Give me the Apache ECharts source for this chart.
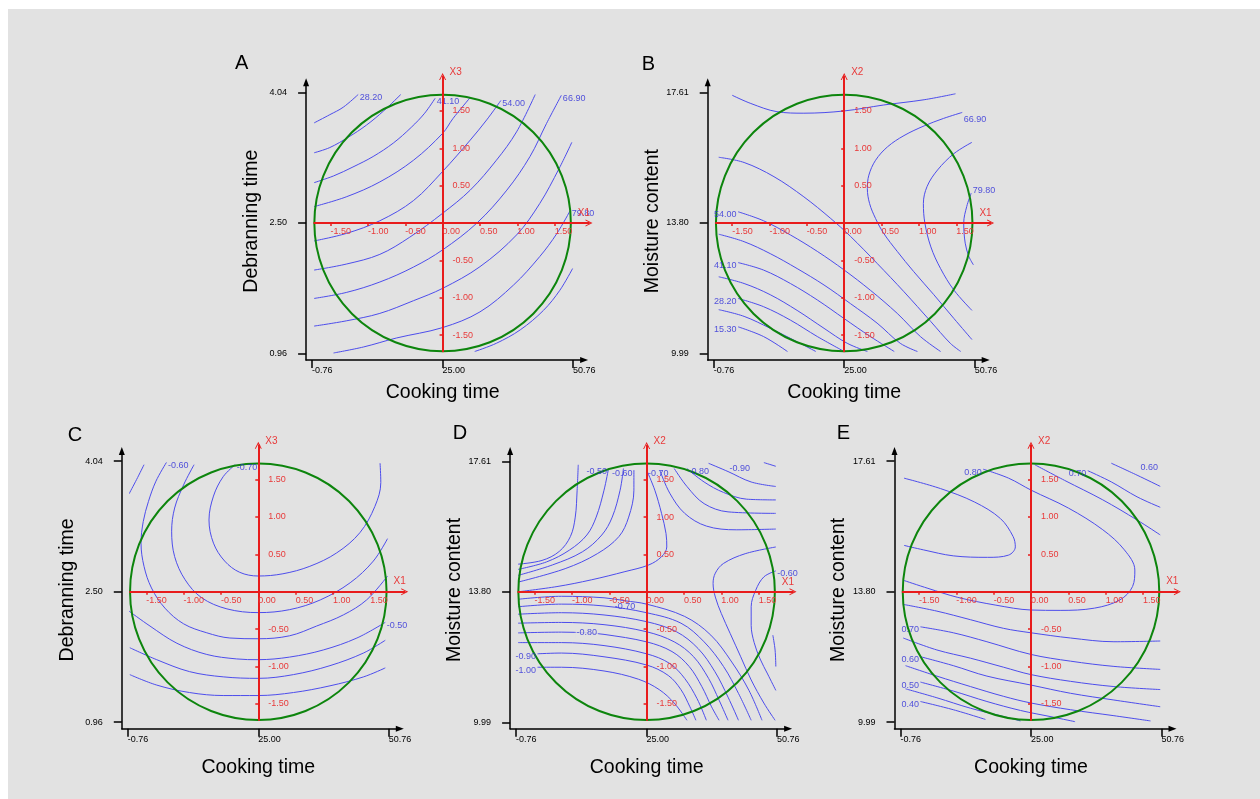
<!DOCTYPE html>
<html><head><meta charset="utf-8">
<script src="https://cdn.jsdelivr.net/npm/echarts@6/dist/echarts.min.js"></script>
<style>html,body{margin:0;padding:0;background:#fff;}#c{width:1260px;height:799px;}</style>
</head><body><div id="c"></div>
<script>
// ---------------- data ----------------
const cookingTicks = [-0.76, 25.00, 50.76];
const debranningTicks = [0.96, 2.50, 4.04];
const moistureTicks = [9.99, 13.80, 17.61];
const codedTicksX = [-1.5, -1, -0.5, 0, 0.5, 1, 1.5];
const codedTicksY = [-1.5, -1, -0.5, 0.5, 1, 1.5];
const alpha = 1.717;            // radius of the experimental domain (coded units)
const designCenter = [[0, 0]];

// Panel A contour lines (coded X1, X3)
const A_lines = [
  [[-1.72,1.34],[-1.51,1.45],[-1.33,1.55],[-1.13,1.72]],
  [[-1.72,0.94],[-1.51,1.01],[-1.26,1.15],[-1.02,1.31],[-0.79,1.50],[-0.56,1.72]],
  [[-1.72,0.54],[-1.46,0.63],[-1.20,0.75],[-0.93,0.89],[-0.66,1.07],[-0.42,1.28],[-0.24,1.47],[-0.10,1.67]],
  [[-1.72,0.22],[-1.29,0.35],[-0.84,0.55],[-0.39,0.84],[0,1.20],[0.14,1.40],[0.37,1.68]],
  [[-1.72,-0.24],[-1.29,-0.14],[-0.84,0.03],[-0.39,0.30],[0,0.69],[0.37,1.11],[0.59,1.38],[0.78,1.64]],
  [[-1.72,-0.63],[-1.29,-0.55],[-0.84,-0.42],[-0.44,-0.19],[0,0.13],[0.37,0.44],[0.72,0.84],[0.99,1.22],[1.24,1.72]],
  [[-1.72,-1.01],[-1.29,-0.93],[-0.84,-0.79],[-0.39,-0.59],[0,-0.36],[0.46,0],[0.86,0.44],[1.17,0.89],[1.39,1.33],[1.59,1.71]],
  [[-1.72,-1.38],[-1.29,-1.31],[-0.84,-1.21],[-0.39,-1.04],[0,-0.875],[0.5,-0.585],[0.99,-0.16],[1.30,0.26],[1.56,0.73],[1.73,1.08]],
  [[-1.46,-1.74],[-1.06,-1.66],[-0.62,-1.54],[0,-1.40],[0.5,-1.19],[0.95,-0.83],[1.30,-0.45],[1.53,-0.14],[1.71,0.17]],
  [[0.43,-1.72],[0.72,-1.61],[1.04,-1.43],[1.35,-1.17],[1.57,-0.90],[1.74,-0.61]]
];
const A_labelText = ['28.20','41.10','54.00','66.90','79.80'];
const A_labelLine = [0, 2, 4, 6, 8];

// Panel B contour lines (coded X1, X2)
const B_lines = [
  [[-1.50,1.71],[-1.25,1.60],[-0.90,1.49],[-0.54,1.47],[0,1.50],[0.53,1.58],[1.07,1.65],[1.49,1.73]],
  [[1.71,-1.56],[1.47,-1.28],[1.20,-0.96],[0.93,-0.65],[0.71,-0.38],[0.53,-0.14],[0.42,0.06],[0.34,0.26],[0.31,0.46],[0.33,0.64],[0.42,0.84],[0.58,1.02],[0.80,1.17],[1.07,1.30],[1.33,1.40],[1.58,1.48]],
  [[1.71,1.08],[1.47,0.93],[1.25,0.71],[1.11,0.49],[1.06,0.26],[1.08,0],[1.16,-0.32],[1.29,-0.61],[1.47,-0.90],[1.71,-1.17]],
  [[1.73,-0.56],[1.67,-0.45],[1.62,-0.27],[1.60,0],[1.64,0.22],[1.70,0.40]],
  [[-1.68,0.88],[-1.34,0.81],[-0.94,0.62],[-0.54,0.35],[-0.18,0.06],[0.085,-0.18],[0.44,-0.54],[0.80,-0.92],[1.16,-1.32],[1.42,-1.61],[1.56,-1.72]],
  [[1.29,-1.72],[1.02,-1.52],[0.71,-1.21],[0.35,-0.90],[0,-0.63],[-0.36,-0.38],[-0.72,-0.16],[-1.08,0.03],[-1.42,0.15]],
  [[-1.68,-0.15],[-1.34,-0.25],[-0.99,-0.41],[-0.63,-0.61],[-0.27,-0.83],[0.085,-1.08],[0.44,-1.34],[0.75,-1.61],[0.98,-1.72]],
  [[0.67,-1.72],[0.35,-1.52],[0,-1.28],[-0.36,-1.03],[-0.72,-0.81],[-1.08,-0.63],[-1.42,-0.53]],
  [[-1.68,-0.72],[-1.34,-0.81],[-0.99,-0.96],[-0.63,-1.17],[-0.27,-1.41],[0.04,-1.61],[0.31,-1.72]],
  [[0,-1.72],[-0.36,-1.52],[-0.72,-1.30],[-1.08,-1.12],[-1.42,-1.01]],
  [[-1.68,-1.16],[-1.34,-1.25],[-0.99,-1.41],[-0.63,-1.59],[-0.38,-1.72]],
  [[-0.76,-1.72],[-1.08,-1.52],[-1.42,-1.39]]
];
const B_labelText = ['66.90','79.80','54.00','41.10','28.20','15.30'];
const B_labelLine = [1, 3, 5, 7, 9, 11];

// Panel C contour lines (coded X1, X3)
const C_lines = [
  [[-1.73,1.31],[-1.63,1.50],[-1.53,1.70]],
  [[1.73,0.21],[1.45,-0.11],[1.14,-0.31],[0.78,-0.46],[0.42,-0.59],[0,-0.63],[-0.38,-0.62],[-0.69,-0.55],[-1.00,-0.43],[-1.25,-0.22],[-1.43,0.05],[-1.53,0.34],[-1.57,0.65],[-1.54,0.94],[-1.47,1.21],[-1.37,1.48],[-1.23,1.73]],
  [[1.73,0.71],[1.54,0.41],[1.23,0.12],[0.83,-0.11],[0.42,-0.24],[0,-0.28],[-0.42,-0.23],[-0.76,-0.08],[-0.98,0.16],[-1.12,0.47],[-1.16,0.81],[-1.12,1.12],[-1.00,1.43],[-0.86,1.70]],
  [[1.63,1.72],[1.64,1.46],[1.56,1.14],[1.36,0.79],[1.05,0.52],[0.69,0.34],[0.33,0.24],[0,0.21],[-0.25,0.26],[-0.45,0.41],[-0.60,0.65],[-0.66,0.96],[-0.60,1.28],[-0.47,1.54],[-0.31,1.70]],
  [[-1.73,-0.26],[-1.45,-0.46],[-1.09,-0.69],[-0.69,-0.84],[-0.29,-0.90],[0,-0.91],[0.42,-0.875],[0.87,-0.78],[1.32,-0.62],[1.70,-0.41]],
  [[-1.72,-0.75],[-1.36,-0.91],[-0.92,-1.07],[-0.47,-1.14],[0,-1.16],[0.47,-1.11],[0.96,-0.99],[1.41,-0.82],[1.70,-0.65]],
  [[-1.72,-1.11],[-1.36,-1.25],[-0.92,-1.35],[-0.47,-1.39],[0,-1.39],[0.47,-1.35],[0.96,-1.26],[1.41,-1.14],[1.70,-1.02]]
];
const C_labelText = ['-0.60','-0.70','-0.50'];
const C_labelLine = [1, 3, 4];

// Panel D contour lines (coded X1, X2)
const D_lines = [
  [[-1.72,0.37],[-1.40,0.42],[-1.17,0.54],[-1.02,0.74],[-0.955,1.00],[-0.93,1.36],[-0.915,1.70]],
  [[-1.72,0.30],[-1.34,0.40],[-1.03,0.56],[-0.80,0.76],[-0.675,1.00],[-0.57,1.36],[-0.51,1.65]],
  [[-1.72,0.22],[-1.26,0.36],[-0.86,0.535],[-0.60,0.76],[-0.46,1.00],[-0.355,1.36],[-0.31,1.65]],
  [[-1.72,0.13],[-1.09,0.31],[-0.66,0.51],[-0.37,0.74],[-0.24,1.00],[-0.17,1.36],[-0.17,1.63]],
  [[-1.72,0],[-1.20,0.07],[-0.74,0.16],[-0.29,0.27],[0.03,0.36],[0.20,0.47],[0.27,0.60],[0.26,0.78],[0.20,1.05],[0.11,1.36],[0,1.63]],
  [[1.57,1.73],[1.73,1.68]],
  [[0.83,1.72],[1.09,1.61],[1.40,1.47],[1.73,1.41]],
  [[1.73,1.23],[1.34,1.24],[1.03,1.33],[0.77,1.47],[0.54,1.65]],
  [[0.37,1.65],[0.54,1.41],[0.77,1.18],[1.09,1.07],[1.73,1.05]],
  [[0.18,1.62],[0.31,1.32],[0.51,1.05],[0.80,0.88],[1.20,0.83],[1.73,0.84]],
  [[1.73,0.60],[1.32,0.51],[1.03,0.38],[0.92,0.25],[0.89,0.11],[0.92,-0.07],[1.00,-0.29],[1.12,-0.56],[1.26,-0.87],[1.40,-1.18],[1.57,-1.49],[1.72,-1.72]],
  [[1.73,-1.32],[1.62,-1.10],[1.52,-0.90],[1.44,-0.68],[1.40,-0.45],[1.40,-0.20],[1.46,0.02],[1.57,0.20],[1.73,0.28]],
  [[1.69,-0.58],[1.72,-0.78],[1.73,-1.00]],
  [[-1.72,-0.10],[-1.14,-0.06],[-0.57,-0.08],[-0.29,-0.12],[0,-0.165],[0.51,-0.33],[0.86,-0.58],[1.14,-0.94],[1.37,-1.32],[1.545,-1.72]],
  [[-1.72,-0.20],[-1.14,-0.165],[-0.57,-0.19],[0,-0.28],[0.46,-0.42],[0.77,-0.67],[1.03,-1.00],[1.23,-1.36],[1.40,-1.72]],
  [[-1.72,-0.30],[-1.14,-0.28],[-0.57,-0.31],[0,-0.40],[0.40,-0.535],[0.69,-0.76],[0.915,-1.07],[1.09,-1.41],[1.23,-1.72]],
  [[-1.72,-0.42],[-1.14,-0.41],[-0.57,-0.44],[0,-0.535],[0.37,-0.67],[0.63,-0.87],[0.83,-1.16],[0.97,-1.45],[1.09,-1.72]],
  [[-1.72,-0.55],[-1.14,-0.54],[-0.80,-0.55],[-0.57,-0.57],[0,-0.67],[0.34,-0.80],[0.57,-1.00],[0.74,-1.27],[0.87,-1.54],[0.97,-1.72]],
  [[-1.72,-0.68],[-1.14,-0.68],[-0.57,-0.72],[0,-0.83],[0.31,-0.96],[0.51,-1.16],[0.675,-1.43],[0.80,-1.72]],
  [[0.66,-1.72],[0.58,-1.54],[0.46,-1.31],[0.29,-1.12],[0,-0.98],[-0.57,-0.87],[-1.14,-0.82],[-1.46,-0.83]],
  [[0.54,-1.72],[0.37,-1.49],[0.17,-1.31],[-0.11,-1.17],[-0.57,-1.06],[-1.14,-1.01],[-1.46,-1.01]]
];
const D_labelText = ['-0.50','-0.60','-0.70','-0.90','-0.80','-0.60','-0.70','-0.80','-0.90','-1.00'];
const D_labelLine = [1, 3, 4, 6, 7, 11, 13, 17, 19, 20];

// Panel E contour lines (coded X1, X2)
const E_lines = [
  [[1.075,1.72],[1.42,1.56],[1.73,1.41]],
  [[1.73,1.13],[1.42,1.27],[1.075,1.47],[0.76,1.62]],
  [[-1.70,0.15],[-1.38,0.045],[-0.98,-0.076],[-0.47,-0.18],[0,-0.245],[0.39,-0.25],[0.85,-0.22],[1.19,-0.11],[1.36,0.07],[1.39,0.29],[1.25,0.56],[0.96,0.83],[0.50,1.12],[0,1.36],[-0.30,1.52],[-0.64,1.64]],
  [[0.05,1.70],[0.45,1.49],[0.96,1.23],[1.42,0.96],[1.73,0.76]],
  [[-1.71,-0.17],[-1.26,-0.26],[-0.81,-0.375],[-0.37,-0.49],[0,-0.55],[0.53,-0.62],[1.11,-0.67],[1.73,-0.66]],
  [[1.73,-1.04],[1.11,-1.00],[0.53,-0.93],[0,-0.84],[-0.59,-0.67],[-1.04,-0.55],[-1.48,-0.47]],
  [[-1.71,-0.62],[-1.26,-0.78],[-0.81,-0.89],[-0.37,-1.01],[0,-1.11],[0.53,-1.20],[1.11,-1.27],[1.73,-1.31]],
  [[1.73,-1.54],[1.11,-1.45],[0.53,-1.36],[0,-1.25],[-0.59,-1.13],[-1.04,-0.99],[-1.48,-0.87]],
  [[-1.68,-0.99],[-1.26,-1.13],[-0.81,-1.27],[-0.37,-1.40],[0,-1.49],[0.53,-1.58],[1.11,-1.66],[1.60,-1.73]],
  [[0.59,-1.74],[0.30,-1.68],[-0.14,-1.59],[-0.59,-1.47],[-1.04,-1.33],[-1.48,-1.21]],
  [[-1.68,-1.30],[-1.26,-1.42],[-0.81,-1.56],[-0.37,-1.67],[-0.14,-1.73]],
  [[-0.61,-1.71],[-1.04,-1.58],[-1.48,-1.47]],
  [[-1.70,1.52],[-1.21,1.38],[-0.755,1.20],[-0.41,0.98],[-0.24,0.74],[-0.21,0.60],[-0.30,0.49],[-0.58,0.46],[-1.04,0.48],[-1.44,0.56],[-1.70,0.62]]
];
const E_labelText = ['0.60','0.70','0.80','0.70','0.60','0.50','0.40'];
const E_labelLine = [0, 1, 2, 5, 7, 9, 11];

// ---------------- layout / style ----------------
const FONT = "'Liberation Sans', Arial, sans-serif";
const S = 74.7;          // px per coded unit
const RED_END = 1.96;
const BG = '#e2e2e2';
const BLUE = '#4d4dec', BLUE_TXT = '#2a2ad8', RED = '#e81c1c', RED_TXT = '#e83a3a', GREEN = '#0d850d';

// label placement: side r/l/t/b/c, optional anchor index and offset
const panels = [
  {cx:442.6, cy:223, xt:cookingTicks, yt:debranningTicks, xName:'Cooking time', yName:'Debranning time', code:'X3',
   lines:A_lines, lt:A_labelText, ll:A_labelLine, side:['r','r','r','r','r'], at:[], off:[], letter:'A', lp:[241.7,63.7], xGap:23},
  {cx:844.2, cy:223, xt:cookingTicks, yt:moistureTicks, xName:'Cooking time', yName:'Moisture content', code:'X2',
   lines:B_lines, lt:B_labelText, ll:B_labelLine, side:['r','r','l','l','l','l'], at:[], off:[[0,7],[0,-3]], letter:'B', lp:[648.3,64], xGap:23},
  {cx:258.3, cy:591.7, xt:cookingTicks, yt:debranningTicks, xName:'Cooking time', yName:'Debranning time', code:'X3',
   lines:C_lines, lt:C_labelText, ll:C_labelLine, side:['r','r','r'], at:[], off:[], letter:'C', lp:[75,435], xGap:29},
  {cx:646.6, cy:591.8, xt:cookingTicks, yt:moistureTicks, xName:'Cooking time', yName:'Moisture content', code:'X2',
   lines:D_lines, lt:D_labelText, ll:D_labelLine, side:['l','l','r','r','r','r','b','c','l','l'],
   at:[null,null,null,1,null,null,3,2,null,null], off:[null,null,null,[0,-3],null,null,[0,0],[0,0]], letter:'D', lp:[460,433.3], xGap:29},
  {cx:1031, cy:591.7, xt:cookingTicks, yt:moistureTicks, xName:'Cooking time', yName:'Moisture content', code:'X2',
   lines:E_lines, lt:E_labelText, ll:E_labelLine, side:['r','l','l','l','l','l','l'], at:[1], off:[[2,-8]], letter:'E', lp:[843.3,433.3], xGap:29}
];

const grid = [], xAxis = [], yAxis = [], series = [];
const graphic = [
  {type:'rect', shape:{x:0, y:0, width:1260, height:9}, style:{fill:'#fff'}},
  {type:'rect', shape:{x:0, y:0, width:8, height:799}, style:{fill:'#fff'}}
];
const fmt2 = v => Number(v).toFixed(2);
const chevron = 'path://M0,10 L5,0 L10,10 L8.6,10 L5,2.8 L1.4,10 Z';
const POS = {r:'right', l:'left', t:'top', b:'bottom', c:'inside'};

panels.forEach(p => {
  // outer (black) axes in real units
  const go = grid.length;
  const kx = 130.5 / (p.xt[2] - p.xt[1]);
  const ky = 130.5 / (p.yt[2] - p.yt[1]);
  const oL = 136.5, oR = 141.5, oB = 137, oT = 140.7;
  grid.push({left: p.cx - oL, top: p.cy - oT, width: oL + oR, height: oT + oB, outerBoundsMode:'none', containLabel:false});
  xAxis.push({
    gridIndex: go, type:'value', min: p.xt[1] - oL / kx, max: p.xt[1] + oR / kx, position:'bottom',
    axisLine:{show:true, onZero:false, lineStyle:{color:'#000', width:1.5}, symbol:['none','triangle'], symbolSize:[6,8]},
    axisTick:{show:true, customValues:p.xt, length:8, lineStyle:{color:'#000', width:1.5}},
    axisLabel:{show:true, customValues:p.xt, formatter:fmt2, color:'#000', fontSize:9, fontFamily:FONT, align:'left', margin:6, hideOverlap:false},
    splitLine:{show:false},
    name:p.xName, nameLocation:'middle', nameGap:p.xGap,
    nameTextStyle:{fontSize:19.5, color:'#000', fontFamily:FONT, padding:[0,5,0,0]}
  });
  yAxis.push({
    gridIndex: go, type:'value', min: p.yt[1] - oB / ky, max: p.yt[1] + oT / ky, position:'left',
    axisLine:{show:true, onZero:false, lineStyle:{color:'#000', width:1.5}, symbol:['none','triangle'], symbolSize:[6,8]},
    axisTick:{show:true, customValues:p.yt, length:8, lineStyle:{color:'#000', width:1.5}},
    axisLabel:{show:true, customValues:p.yt, formatter:fmt2, color:'#000', fontSize:9, fontFamily:FONT, margin:19, hideOverlap:false},
    splitLine:{show:false},
    name:p.yName, nameLocation:'middle', nameGap:44,
    nameTextStyle:{fontSize:19.5, color:'#000', fontFamily:FONT}
  });
  // inner (red, coded) axes, shifted onto the design centre
  const gi = grid.length;
  const shift = -alpha * S;
  grid.push({left: p.cx - alpha * S, top: p.cy - RED_END * S, width:(alpha + RED_END) * S, height:(alpha + RED_END) * S, outerBoundsMode:'none', containLabel:false});
  xAxis.push({
    gridIndex: gi, type:'value', min:-alpha, max:RED_END, z:10, position:'bottom', offset:shift,
    axisLine:{show:true, onZero:false, lineStyle:{color:RED, width:2}, symbol:['none', chevron], symbolSize:[7,7]},
    axisTick:{show:true, customValues:codedTicksX, length:3, lineStyle:{color:RED, width:1.5}},
    axisLabel:{show:true, customValues:codedTicksX, formatter:fmt2, color:RED_TXT, fontSize:9, fontFamily:FONT, align:'left', margin:4, hideOverlap:false},
    splitLine:{show:false},
    name:'X1', nameLocation:'end', nameGap:1,
    nameTextStyle:{color:RED_TXT, fontSize:10, fontFamily:FONT, align:'right', verticalAlign:'bottom', padding:[0,0,5,0]}
  });
  yAxis.push({
    gridIndex: gi, type:'value', min:-alpha, max:RED_END, z:10, position:'left', offset:shift,
    axisLine:{show:true, onZero:false, lineStyle:{color:RED, width:2}, symbol:['none', chevron], symbolSize:[7,7]},
    axisTick:{show:true, customValues:codedTicksY, length:3, lineStyle:{color:RED, width:1.5}},
    axisLabel:{show:true, customValues:codedTicksY, formatter:fmt2, color:RED_TXT, fontSize:9, fontFamily:FONT, inside:true, margin:10, hideOverlap:false},
    splitLine:{show:false},
    name:p.code, nameLocation:'end', nameGap:4,
    nameTextStyle:{color:RED_TXT, fontSize:10, fontFamily:FONT, align:'left', verticalAlign:'middle', padding:[0,0,0,7]}
  });
  // contour lines
  p.lines.forEach(pts => {
    series.push({type:'line', xAxisIndex:gi, yAxisIndex:gi, data:pts, smooth:0.35, showSymbol:false, symbol:'none',
      lineStyle:{color:BLUE, width:1}, z:3, silent:true, clip:false});
  });
  // contour labels, anchored on points of the traced lines
  const labelData = p.lt.map((txt, k) => {
    const line = p.lines[p.ll[k]];
    const idx = (p.at[k] != null) ? p.at[k] : line.length - 1;
    const s = p.side[k];
    const lab = {position: POS[s]};
    if (p.off[k]) lab.offset = p.off[k];
    if (s === 'c') { lab.backgroundColor = BG; lab.padding = [0, 1]; }
    return {name:txt, value:line[idx], label:lab};
  });
  series.push({type:'scatter', xAxisIndex:gi, yAxisIndex:gi, data:labelData, symbolSize:1, z:6, silent:true,
    itemStyle:{color:'rgba(0,0,0,0)'},
    label:{show:true, formatter:q => q.name, color:BLUE_TXT, fontSize:9, fontFamily:FONT, distance:1, offset:[0,3]}});
  // experimental domain circle
  series.push({type:'custom', xAxisIndex:gi, yAxisIndex:gi, data:designCenter, z:5, silent:true, clip:false,
    renderItem:(params, api) => {
      const c = api.coord([api.value(0), api.value(1)]);
      const r = api.size([alpha, 0])[0];
      return {type:'circle', shape:{cx:c[0], cy:c[1], r:r}, style:{fill:'none', stroke:GREEN, lineWidth:2}};
    }});
  graphic.push({type:'text', x:p.lp[0], y:p.lp[1], style:{text:p.letter, fontSize:20, fontFamily:FONT, fill:'#000', align:'center', verticalAlign:'middle'}});
});

const chart = echarts.init(document.getElementById('c'), null, {renderer:'canvas'});
chart.setOption({
  animation:false,
  backgroundColor:BG,
  grid, xAxis, yAxis, series, graphic
});
</script></body></html>
